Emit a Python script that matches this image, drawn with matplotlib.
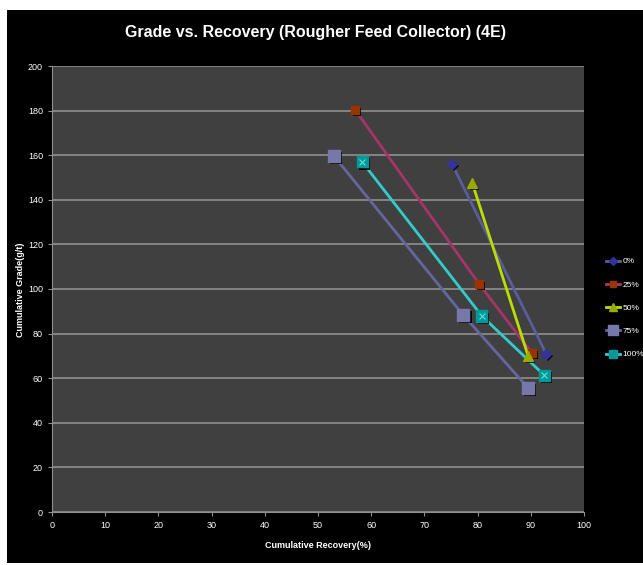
import matplotlib
matplotlib.use("Agg")
from matplotlib import pyplot as plt
from matplotlib import patheffects as pe
from matplotlib.patches import Rectangle

# values
series_names = ['0%', '25%', '50%', '75%', '100%']
recovery_0 = [75.2, 92.9]
grade_0 = [156.0, 70.9]
recovery_25 = [57.0, 80.3, 90.2]
grade_25 = [180.3, 102.2, 71.3]
recovery_50 = [79.0, 89.5]
grade_50 = [147.5, 70.0]
recovery_75 = [53.0, 77.3, 89.5]
grade_75 = [159.6, 88.3, 55.6]
recovery_100 = [58.3, 80.8, 92.5]
grade_100 = [157.0, 87.9, 61.4]

x_ticks = list(range(0, 101, 10))
y_ticks = list(range(0, 201, 20))

plt.rcParams['font.family'] = ['Liberation Sans', 'DejaVu Sans']

fig = plt.figure(figsize=(6.43, 5.65), dpi=100, facecolor='white')
# black chart area inside the white border
fig.patches.append(Rectangle((7 / 643, 2 / 565), 1 - 7 / 643, 1 - 12 / 565,
                             transform=fig.transFigure, facecolor='black',
                             edgecolor='none', zorder=-5))

ax = fig.add_axes([52 / 643, 1 - 512 / 565, 532 / 643, 446 / 565])
ax.set_facecolor('#404040')

shadow = [pe.SimplePatchShadow(offset=(1.5, -1.5), shadow_rgbFace='black', alpha=0.9), pe.Normal()]

styles = [
    (recovery_0, grade_0, '#5c5c9a', 'D', '#333399', 5),
    (recovery_25, grade_25, '#a83466', 's', '#993300', 6),
    (recovery_50, grade_50, '#bbdd00', '^', '#99aa00', 7),
    (recovery_75, grade_75, '#66669e', 's', '#7777aa', 9),
    (recovery_100, grade_100, '#33cccc', 's', '#009999', 8),
]

handles = []
for (xs, ys, lc, mk, mc, ms), name in zip(styles, series_names):
    ax.plot(xs, ys, color=lc, lw=2, zorder=3)
    ax.plot(xs, ys, ls='none', marker=mk, ms=ms, markerfacecolor=mc,
            markeredgecolor=mc, zorder=4, path_effects=shadow)
    h, = ax.plot([], [], color=lc, lw=2, marker=mk, ms=ms * 0.8,
                 markerfacecolor=mc, markeredgecolor=mc, label=name)
    handles.append(h)

# star inside the 100% markers
ax.plot(recovery_100, grade_100, ls='none', marker='x', ms=5, mew=0.8,
        color='#66dddd', zorder=5)

ax.set_xlim(0, 100)
ax.set_ylim(0, 200)
ax.set_xticks(x_ticks)
ax.set_yticks(y_ticks)
ax.grid(axis='y', color='#909090', lw=1.2)
ax.set_axisbelow(True)
for side in ['top', 'right']:
    ax.spines[side].set_visible(False)
for side in ['left', 'bottom']:
    ax.spines[side].set_color('#909090')
ax.tick_params(colors='#909090', labelcolor='white', labelsize=6.5,
               direction='out', length=3)

ax.set_xlabel('Cumulative Recovery(%)', color='white', fontsize=6.5,
              fontweight='bold', labelpad=8)
fig.text(21 / 643, 1 - 290 / 565, 'Cumulative Grade(g/t)', color='white',
         fontsize=6.5, fontweight='bold', rotation=90, ha='center', va='center')
fig.text(0.49, 1 - 33 / 565, 'Grade vs. Recovery (Rougher Feed Collector) (4E)',
         color='white', fontsize=11.5, fontweight='bold', ha='center', va='center')

leg = fig.legend(handles=handles, loc='center left',
                 bbox_to_anchor=(603 / 643, 1 - 308 / 565), frameon=False,
                 fontsize=6, labelcolor='white', handlelength=1.6,
                 handletextpad=0.3, labelspacing=1.85, borderaxespad=0)

fig.savefig('out.png', dpi=100, facecolor='white')
